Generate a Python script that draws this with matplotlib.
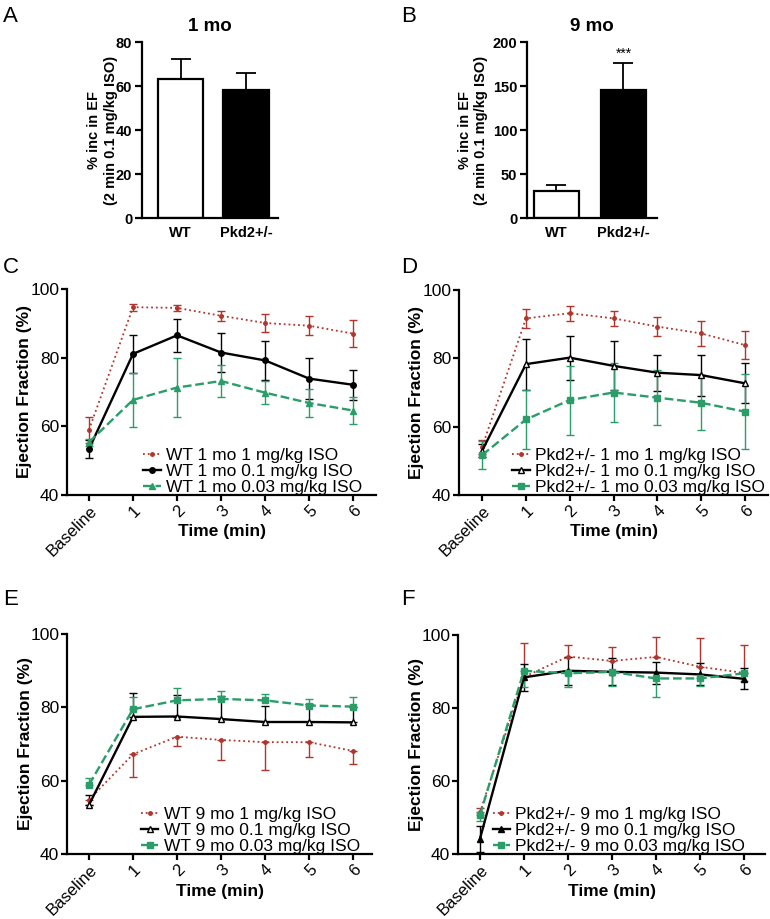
import numpy as np
import matplotlib
matplotlib.use('Agg')
import matplotlib.pyplot as plt
from matplotlib.lines import Line2D

plt.rcParams['font.family'] = ['Liberation Sans', 'DejaVu Sans']

RED = '#b0352c'
GREEN = '#2a9d68'

# ---- bar panels (A, B) ----
bar_groups = ['WT', 'Pkd2+/-']
a_vals = [63.1, 58.4]
a_err = [9.4, 7.3]
b_vals = [31.0, 146.0]
b_err = [6.4, 30.6]

# ---- time course panels (C-F) ----
time_labels = ['Baseline', '1', '2', '3', '4', '5', '6']

# C: WT 1 mo
c_red = [59.0, 94.7, 94.5, 92.2, 90.1, 89.3, 87.0]
c_red_err = [3.8, 1.0, 0.8, 1.5, 2.7, 2.8, 3.9]
c_blk = [53.4, 81.1, 86.5, 81.5, 79.2, 73.9, 72.1]
c_blk_err = [2.7, 5.6, 4.8, 5.8, 5.6, 6.0, 4.4]
c_grn = [55.4, 67.7, 71.3, 73.2, 69.8, 66.8, 64.6]
c_grn_err = [1.0, 7.8, 8.7, 4.7, 3.4, 4.2, 3.8]

# D: Pkd2+/- 1 mo
d_red = [54.1, 91.7, 93.2, 91.7, 89.3, 87.3, 83.9]
d_red_err = [2.0, 2.8, 2.2, 2.2, 2.9, 3.6, 4.0]
d_blk = [53.0, 78.3, 80.2, 77.8, 75.8, 75.1, 72.7]
d_blk_err = [2.0, 7.5, 6.4, 7.2, 5.3, 6.0, 5.8]
d_grn = [51.7, 62.1, 67.8, 70.0, 68.5, 67.0, 64.4]
d_grn_err = [4.0, 8.7, 10.1, 8.5, 8.1, 8.0, 11.0]

# E: WT 9 mo (one-sided bars)
e_red = [54.8, 67.2, 72.0, 71.1, 70.5, 70.5, 68.1]
e_red_lo = [1.5, 6.1, 2.5, 5.4, 7.5, 4.1, 3.5]
e_blk = [53.4, 77.4, 77.5, 76.8, 76.0, 76.0, 75.9]
e_blk_hi = [2.7, 6.5, 6.0, 6.2, 4.5, 5.0, 4.2]
e_grn = [58.9, 79.5, 81.9, 82.3, 81.9, 80.5, 80.2]
e_grn_hi = [1.8, 3.3, 3.3, 2.2, 1.7, 1.8, 2.5]

# F: Pkd2+/- 9 mo
f_red = [51.4, 88.5, 94.1, 92.9, 94.0, 91.3, 89.6]
f_red_hi = [1.3, 9.3, 3.2, 3.7, 5.5, 8.0, 7.7]
f_blk = [44.2, 88.4, 90.2, 89.9, 89.7, 89.2, 88.0]
f_blk_err = [3.6, 3.7, 3.8, 3.7, 3.0, 3.0, 2.9]
f_grn = [50.7, 90.2, 89.5, 89.9, 88.1, 88.1, 89.5]
f_grn_lo = [1.6, 4.4, 3.8, 3.8, 5.0, 2.0, 2.2]

W, H = 770, 919
fig = plt.figure(figsize=(W / 100, H / 100), dpi=100)


def px_axes(left, right, top, bottom):
    return fig.add_axes([left / W, 1 - bottom / H, (right - left) / W, (bottom - top) / H])


def style_axes(ax, lw=1.6):
    for s in ['top', 'right']:
        ax.spines[s].set_visible(False)
    for s in ['left', 'bottom']:
        ax.spines[s].set_linewidth(lw)
    ax.tick_params(direction='out', width=lw, length=5)


def bar_panel(ax, vals, err, ymax, step, title, xlim, width, ylab_x):
    style_axes(ax)
    x = np.arange(len(vals))
    ax.bar(x, vals, width=width, color=['white', 'black'], edgecolor='black', linewidth=1.6, zorder=2)
    ax.errorbar(x, vals, yerr=[[0, 0], err], fmt='none', ecolor='black', elinewidth=1.3,
                capsize=7, capthick=1.3, zorder=1)
    ax.set_xlim(*xlim)
    ax.set_ylim(0, ymax)
    ax.set_yticks(np.arange(0, ymax + 1, step))
    ax.set_xticks(x)
    ax.set_xticklabels(bar_groups)
    ax.tick_params(axis='x', length=0, pad=6)
    ax.tick_params(axis='y', pad=2)
    for lab in ax.get_xticklabels() + ax.get_yticklabels():
        lab.set_fontweight('bold')
        lab.set_fontsize(10.5)
    ax.set_ylabel('% inc in EF\n(2 min 0.1 mg/kg ISO)', fontsize=10.5, fontweight='bold')
    ax.yaxis.set_label_coords(ylab_x, 0.5)
    ax.set_title(title, fontsize=13.5, fontweight='bold', pad=8)


def line_panel(ax, series, xlim, leg_x, xlab_y):
    style_axes(ax)
    ax.tick_params(length=4)
    x = np.arange(len(time_labels))
    handles = []
    for vals, yerr, color, ls, lw, mk, ms, mfc, label in series:
        ax.errorbar(x, vals, yerr=yerr, color=color, ls=ls, lw=lw, marker=mk, ms=ms,
                    mfc=mfc, mec=color, mew=1.0, elinewidth=1.0, capsize=3, capthick=1.0)
        handles.append(Line2D([], [], color=color, ls=ls, lw=lw, marker=mk, ms=ms,
                              mfc=mfc, mec=color, mew=1.0, label=label))
    ax.set_xlim(*xlim)
    ax.set_ylim(40, 100)
    ax.set_yticks([40, 60, 80, 100])
    ax.set_xticks(x)
    ax.set_xticklabels(time_labels, rotation=45, ha='right', rotation_mode='anchor')
    ax.tick_params(axis='y', labelsize=12.5, pad=1.5)
    ax.tick_params(axis='x', labelsize=12, pad=2)
    ax.set_xlabel('Time (min)', fontsize=12.5, fontweight='bold')
    ax.xaxis.set_label_coords(0.5, xlab_y)
    ax.set_ylabel('Ejection Fraction (%)', fontsize=12.5, fontweight='bold')
    ax.yaxis.set_label_coords(-0.112, 0.5)
    ax.legend(handles=handles, loc='lower right', bbox_to_anchor=(leg_x, 0.0), frameon=False,
              fontsize=12.5, handlelength=1.0, handletextpad=0.3, labelspacing=0.05,
              borderpad=0, borderaxespad=0)


# A
axA = px_axes(142, 278, 42, 218)
bar_panel(axA, a_vals, a_err, 80, 20, '1 mo', (-0.59, 1.49), 0.69, -0.18)

# B
axB = px_axes(527, 657, 42, 218)
bar_panel(axB, b_vals, b_err, 200, 50, '9 mo', (-0.44, 1.5), 0.67, -0.3)
axB.text(1, b_vals[1] + b_err[1] + 2, '***', ha='center', va='bottom', fontsize=10)

# C
axC = px_axes(67, 376, 289, 495)
line_panel(axC, [
    (c_red, c_red_err, RED, ':', 1.3, 'o', 2.5, RED, 'WT 1 mo 1 mg/kg ISO'),
    (c_blk, c_blk_err, 'black', '-', 1.7, 'o', 4, 'black', 'WT 1 mo 0.1 mg/kg ISO'),
    (c_grn, c_grn_err, GREEN, '--', 1.7, '^', 4.5, GREEN, 'WT 1 mo 0.03 mg/kg ISO'),
], (-0.5, 6.52), 0.955, -0.14)

# D
axD = px_axes(459, 768, 290, 495)
line_panel(axD, [
    (d_red, d_red_err, RED, ':', 1.3, 'o', 2.5, RED, 'Pkd2+/- 1 mo 1 mg/kg ISO'),
    (d_blk, d_blk_err, 'black', '-', 1.7, '^', 5, 'white', 'Pkd2+/- 1 mo 0.1 mg/kg ISO'),
    (d_grn, d_grn_err, GREEN, '--', 1.7, 's', 4, GREEN, 'Pkd2+/- 1 mo 0.03 mg/kg ISO'),
], (-0.53, 6.53), 0.99, -0.14)

# E
zeros = [0] * len(time_labels)
axE = px_axes(67, 372, 634, 854)
line_panel(axE, [
    (e_red, [e_red_lo, zeros], RED, ':', 1.3, 'o', 2.5, RED, 'WT 9 mo 1 mg/kg ISO'),
    (e_blk, [zeros, e_blk_hi], 'black', '-', 1.7, '^', 5, 'white', 'WT 9 mo 0.1 mg/kg ISO'),
    (e_grn, [zeros, e_grn_hi], GREEN, '--', 1.7, 's', 4, GREEN, 'WT 9 mo 0.03 mg/kg ISO'),
], (-0.5, 6.43), 0.96, -0.135)

# F
axF = px_axes(458, 765, 635, 854)
line_panel(axF, [
    (f_red, [zeros, f_red_hi], RED, ':', 1.3, 'o', 2.5, RED, 'Pkd2+/- 9 mo 1 mg/kg ISO'),
    (f_blk, f_blk_err, 'black', '-', 1.7, '^', 5, 'black', 'Pkd2+/- 9 mo 0.1 mg/kg ISO'),
    (f_grn, [f_grn_lo, zeros], GREEN, '--', 1.7, 's', 4, GREEN, 'Pkd2+/- 9 mo 0.03 mg/kg ISO'),
], (-0.5, 6.48), 0.935, -0.135)

# panel letters
for letter, (lx, ly) in zip('ABCDEF', [(3, 22), (401, 22), (3, 273), (401, 273), (3, 605), (401, 605)]):
    fig.text(lx / W, 1 - ly / H, letter, fontsize=16, ha='left', va='baseline')

plt.savefig('out.png', dpi=100)
